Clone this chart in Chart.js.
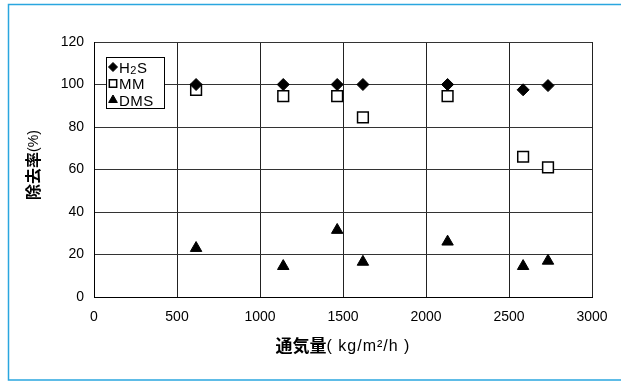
<!DOCTYPE html>
<html>
<head>
<meta charset="utf-8">
<script src="https://cdn.jsdelivr.net/npm/chart.js@4/dist/chart.umd.min.js"></script>
<style>
  html, body { margin: 0; padding: 0; background: #fff; }
  canvas { display: block; }
</style>
</head>
<body>
<canvas id="chart" width="621" height="382"></canvas>
<script>
// Ventilation rate (kg/m2/h) for each run
const flowRate = [615, 1140, 1465, 1620, 2130, 2585, 2735];
// Removal rates (%) per compound
const h2sRemoval = [100, 100, 100, 100, 100, 97.5, 99.5];
const mmRemoval  = [97.5, 94.5, 94.5, 84.5, 94.5, 66, 61];
const dmsRemoval = [23, 14.5, 31.5, 16.5, 26, 14.5, 17];

const seriesLabels = ['H2S', 'MM', 'DMS'];
const xTicks = [0, 500, 1000, 1500, 2000, 2500, 3000];
const yTicks = [0, 20, 40, 60, 80, 100, 120];

const yTitleMain = '除去率';
const yTitleUnit = '(%)';
const xTitleMain = '通気量';
const xTitleUnit = '( kg/m²/h )';

const toPoints = vals => vals.map((v, i) => ({ x: flowRate[i], y: v }));

const AREA = { left: 94, top: 42, right: 592, bottom: 297 };
const W = 621, H = 382;

// Frame, legend and mixed-style axis titles
const decorations = {
  id: 'decorations',
  afterDraw(chart) {
    const ctx = chart.ctx;
    const ca = chart.chartArea;
    ctx.save();

    // outer blue frame (left, top, bottom edges)
    ctx.strokeStyle = '#2aa6df';
    ctx.lineWidth = 1.5;
    ctx.beginPath();
    ctx.moveTo(W, 4.5);
    ctx.lineTo(8.5, 4.5);
    ctx.lineTo(8.5, 380);
    ctx.lineTo(W, 380);
    ctx.stroke();

    // legend box
    const lx = ca.left + 12, ly = ca.top + 15, lw = 58, lh = 51;
    ctx.fillStyle = '#fff';
    ctx.fillRect(lx, ly, lw, lh);
    ctx.strokeStyle = '#000';
    ctx.lineWidth = 1;
    ctx.strokeRect(lx + 0.5, ly + 0.5, lw, lh);

    const legendSizes = [4.5, 5.2, 5];
    chart.data.datasets.forEach((ds, i) => {
      const cy = ly + 10 + i * 16.5;
      const mx = lx + 7;
      ctx.save();
      ctx.fillStyle = ds.pointBackgroundColor;
      ctx.strokeStyle = ds.pointBorderColor;
      ctx.lineWidth = ds.pointBorderWidth;
      Chart.helpers.drawPoint(ctx, {
        pointStyle: ds.pointStyle,
        radius: legendSizes[i],
        rotation: 0,
        borderWidth: ds.pointBorderWidth
      }, mx, cy);
      ctx.restore();

      // label text; digits rendered as subscripts
      ctx.fillStyle = '#000';
      ctx.textBaseline = 'alphabetic';
      ctx.textAlign = 'left';
      if ('letterSpacing' in ctx) ctx.letterSpacing = '0.5px';
      let tx = lx + 13;
      const base = cy + 5.5;
      for (const ch of ds.label) {
        if (/[0-9]/.test(ch)) {
          ctx.font = '11px "Liberation Sans", Arial, sans-serif';
          ctx.fillText(ch, tx, base + 1);
        } else {
          ctx.font = '15px "Liberation Sans", Arial, sans-serif';
          ctx.fillText(ch, tx, base);
        }
        tx += ctx.measureText(ch).width;
      }
      if ('letterSpacing' in ctx) ctx.letterSpacing = '0px';
    });

    // y axis title (rotated)
    const boldCJK = 'bold 16px "Noto Sans CJK JP", sans-serif';
    const unitFont = '14px "Liberation Sans", Arial, sans-serif';
    ctx.font = boldCJK;
    const w1 = ctx.measureText(yTitleMain).width;
    ctx.font = unitFont;
    const w2 = ctx.measureText(yTitleUnit).width;
    ctx.save();
    ctx.translate(33, 165);
    ctx.rotate(-Math.PI / 2);
    ctx.textBaseline = 'middle';
    ctx.textAlign = 'left';
    let sx = -(w1 + w2) / 2;
    ctx.font = boldCJK;
    ctx.fillText(yTitleMain, sx, 0);
    ctx.font = unitFont;
    ctx.fillText(yTitleUnit, sx + w1, 1);
    ctx.restore();

    // x axis title
    const boldX = 'bold 17px "Noto Sans CJK JP", sans-serif';
    const unitX = '16px "Liberation Sans", Arial, sans-serif';
    ctx.font = boldX;
    const v1 = ctx.measureText(xTitleMain).width;
    ctx.font = unitX;
    if ('letterSpacing' in ctx) ctx.letterSpacing = '1px';
    const v2 = ctx.measureText(xTitleUnit).width;
    const cx = (ca.left + ca.right) / 2;
    let px = cx - (v1 + v2) / 2;
    ctx.textBaseline = 'middle';
    ctx.textAlign = 'left';
    if ('letterSpacing' in ctx) ctx.letterSpacing = '0px';
    ctx.font = boldX;
    ctx.fillText(xTitleMain, px, 346);
    ctx.font = unitX;
    if ('letterSpacing' in ctx) ctx.letterSpacing = '1px';
    ctx.fillText(xTitleUnit, px + v1, 347);
    ctx.restore();
  }
};

const tickFont = { family: '"Liberation Sans", Arial, sans-serif', size: 14 };
const plainLabel = v => String(v);

new Chart(document.getElementById('chart'), {
  type: 'scatter',
  data: {
    datasets: [
      {
        label: seriesLabels[0],
        data: toPoints(h2sRemoval),
        pointStyle: 'rectRot',
        pointRadius: 6,
        pointBackgroundColor: '#000',
        pointBorderColor: '#000',
        pointBorderWidth: 1
      },
      {
        label: seriesLabels[1],
        data: toPoints(mmRemoval),
        pointStyle: 'rect',
        pointRadius: 7.6,
        pointBackgroundColor: '#fff',
        pointBorderColor: '#000',
        pointBorderWidth: 1.5
      },
      {
        label: seriesLabels[2],
        data: toPoints(dmsRemoval),
        pointStyle: 'triangle',
        pointRadius: 6.6,
        pointBackgroundColor: '#000',
        pointBorderColor: '#000',
        pointBorderWidth: 1
      }
    ]
  },
  options: {
    responsive: false,
    animation: false,
    devicePixelRatio: 1,
    layout: { padding: { left: 0, top: AREA.top, right: W - AREA.right, bottom: 0 } },
    plugins: {
      legend: { display: false },
      tooltip: { enabled: false }
    },
    scales: {
      x: {
        type: 'linear',
        min: xTicks[0],
        max: xTicks[xTicks.length - 1],
        afterBuildTicks: s => { s.ticks = xTicks.map(v => ({ value: v })); },
        afterFit: s => { s.height = H - AREA.bottom; },
        ticks: { color: '#000', font: tickFont, padding: 12, maxRotation: 0, callback: plainLabel },
        grid: { color: '#222', lineWidth: 1, drawTicks: false },
        border: { color: '#000', width: 1 }
      },
      y: {
        type: 'linear',
        min: yTicks[0],
        max: yTicks[yTicks.length - 1],
        afterBuildTicks: s => { s.ticks = yTicks.map(v => ({ value: v })); },
        afterFit: s => { s.width = AREA.left; },
        ticks: { color: '#000', font: tickFont, padding: 10, callback: plainLabel },
        grid: { color: '#333', lineWidth: 1, drawTicks: false },
        border: { color: '#000', width: 1 }
      }
    }
  },
  plugins: [decorations]
});
</script>
</body>
</html>
